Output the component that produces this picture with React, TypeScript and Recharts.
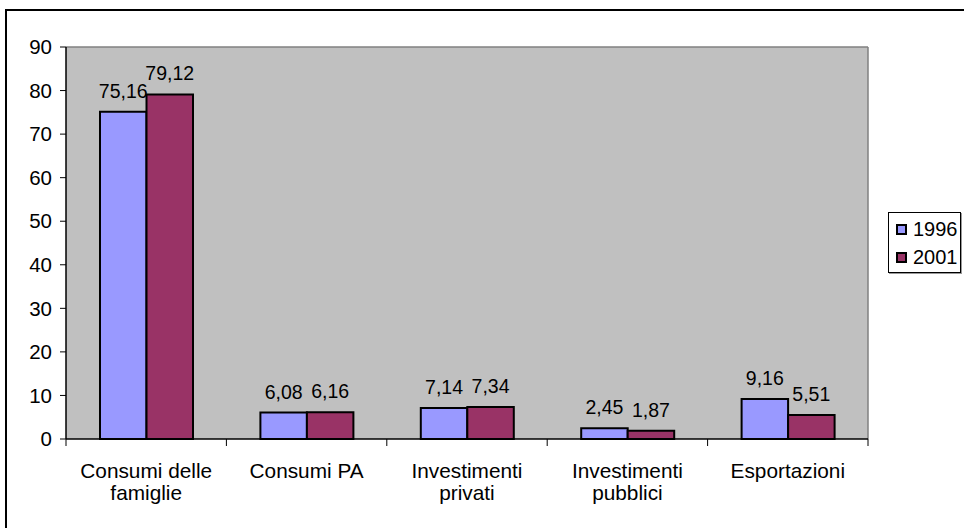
import React from 'react';
import { BarChart, Bar, XAxis, YAxis, CartesianGrid, LabelList } from 'recharts';

const categories = ['Consumi delle famiglie', 'Consumi PA', 'Investimenti privati', 'Investimenti pubblici', 'Esportazioni'];
const categoryLines = [['Consumi delle', 'famiglie'], ['Consumi PA'], ['Investimenti', 'privati'], ['Investimenti', 'pubblici'], ['Esportazioni']];
const series1996 = [75.16, 6.08, 7.14, 2.45, 9.16];
const series2001 = [79.12, 6.16, 7.34, 1.87, 5.51];
const seriesNames = ['1996', '2001'];
const seriesColors = ['#9999FF', '#993366'];
const yTicks = [0, 10, 20, 30, 40, 50, 60, 70, 80, 90];

const data = categories.map((c, i) => ({
  name: c,
  lines: categoryLines[i],
  s1996: series1996[i],
  s2001: series2001[i],
}));

const FONT = '"Liberation Sans", Arial, sans-serif';
const W = 964;
const H = 528;
const MARGIN = { top: 47, right: 96, left: 0, bottom: 0 };
const YAXIS_W = 66;
const PLOT_W = W - MARGIN.left - MARGIN.right - YAXIS_W;
const HALF_BAND = PLOT_W / categories.length / 2;

const fmt = (v: any) => Number(v).toFixed(2).replace('.', ',');

const XTick = (props: any) => {
  const { x, y, payload, index } = props;
  const lines: string[] = categoryLines[categories.indexOf(payload.value)] || [String(payload.value)];
  return (
    <g>
      <line x1={x - HALF_BAND} x2={x - HALF_BAND} y1={y} y2={y + 7} stroke="#000" strokeWidth={1} />
      {index === categories.length - 1 && (
        <line x1={x + HALF_BAND} x2={x + HALF_BAND} y1={y} y2={y + 7} stroke="#000" strokeWidth={1} />
      )}
      {lines.map((l, i) => (
        <text key={i} x={x} y={y + 39 + i * 22} textAnchor="middle" fontSize={20.8} fontFamily={FONT} fill="#000">
          {l}
        </text>
      ))}
    </g>
  );
};

export default function App() {
  return (
    <div style={{ position: 'absolute', left: 0, top: 0, width: W, height: H, background: '#fff', overflow: 'hidden', fontFamily: FONT }}>
      <div
        style={{
          position: 'absolute',
          left: 5,
          top: 9,
          width: W + 20,
          height: H + 20,
          borderLeft: '2px solid #000',
          borderTop: '2px solid #000',
        }}
      />
      <div style={{ position: 'absolute', left: 0, top: 0 }}>
        <BarChart width={W} height={H} data={data} margin={MARGIN} barGap={0}>
          <CartesianGrid
            fill="#C0C0C0"
            stroke="#808080"
            strokeWidth={1.5}
            horizontalCoordinatesGenerator={({ offset }: any) => [offset.top]}
            verticalCoordinatesGenerator={({ offset }: any) => [offset.left + offset.width]}
          />
          <XAxis
            dataKey="name"
            interval={0}
            height={89}
            tickSize={0}
            tickMargin={0}
            tickLine={false}
            axisLine={{ stroke: '#000', strokeWidth: 1.5 }}
            tick={<XTick />}
          />
          <YAxis
            domain={[0, 90]}
            ticks={yTicks}
            interval={0}
            width={YAXIS_W}
            tickSize={6}
            tickMargin={8}
            axisLine={{ stroke: '#000', strokeWidth: 1.5 }}
            tickLine={{ stroke: '#000' }}
            tick={{ fontSize: 20.5, fill: '#000', fontFamily: FONT }}
          />
          <Bar dataKey="s1996" name={seriesNames[0]} fill={seriesColors[0]} stroke="#000" strokeWidth={2} barSize={46.5} isAnimationActive={false}>
            <LabelList dataKey="s1996" position="top" offset={14} formatter={fmt} style={{ fontSize: 19.5, fill: '#000', fontFamily: FONT }} />
          </Bar>
          <Bar dataKey="s2001" name={seriesNames[1]} fill={seriesColors[1]} stroke="#000" strokeWidth={2} barSize={46.5} isAnimationActive={false}>
            <LabelList dataKey="s2001" position="top" offset={14} formatter={fmt} style={{ fontSize: 19.5, fill: '#000', fontFamily: FONT }} />
          </Bar>
        </BarChart>
      </div>
      <div
        style={{
          position: 'absolute',
          left: 888,
          top: 212,
          width: 73,
          height: 61,
          border: '1px solid #000',
          background: '#fff',
          boxShadow: '1px 1px 0 #999',
          boxSizing: 'border-box',
        }}
      >
        {seriesNames.map((n, i) => (
          <div key={n} style={{ position: 'absolute', left: 7, top: 5 + i * 28, height: 22, display: 'flex', alignItems: 'center' }}>
            <div style={{ width: 11, height: 11, background: seriesColors[i], border: '2px solid #000', boxSizing: 'border-box', marginRight: 6 }} />
            <span style={{ fontSize: 20, color: '#000', lineHeight: '22px' }}>{n}</span>
          </div>
        ))}
      </div>
    </div>
  );
}
